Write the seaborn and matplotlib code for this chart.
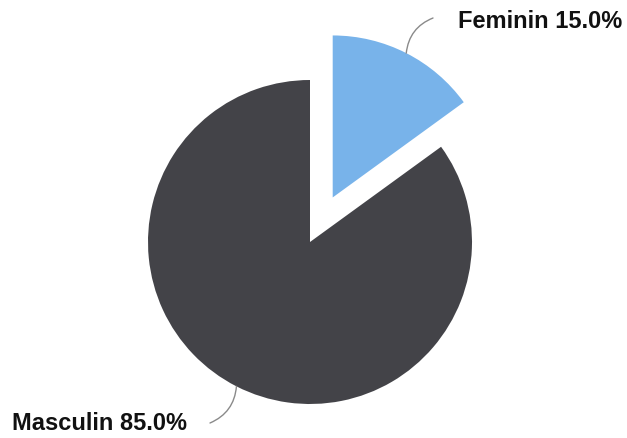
import numpy as np
import matplotlib
matplotlib.use("Agg")
import matplotlib.pyplot as plt
import seaborn as sns

# data
labels = ["Feminin", "Masculin"]
shares = [15.0, 85.0]
colors = ["#78b3ea", "#434348"]

sns.set_style("white")
plt.rcParams['font.family'] = ['Liberation Sans', 'DejaVu Sans']

fig = plt.figure(figsize=(6.27, 4.38), dpi=100)
ax = fig.add_axes([0, 0, 1, 1])

R = 162
wedges, _ = ax.pie(shares, colors=colors, startangle=90, counterclock=False,
                   explode=[50, 0], radius=R, center=(310, 196),
                   wedgeprops=dict(linewidth=0), frame=False)
ax.set_xlim(0, 627)
ax.set_ylim(0, 438)
ax.set_aspect("equal")
ax.axis("off")

# labels with curved connectors
text_pos = [(458, 416), (12, 14)]
line_end = [(433, 420), (210, 15)]
rads = [0.3, 0.3]
for w, lab, val, tp, le, rd in zip(wedges, labels, shares, text_pos, line_end, rads):
    mid = np.deg2rad((w.theta1 + w.theta2) / 2)
    cx, cy = w.center
    start = (cx + w.r * np.cos(mid), cy + w.r * np.sin(mid))
    ax.annotate("", xy=start, xytext=le,
                arrowprops=dict(arrowstyle="-", color="#8a8a8a", lw=1,
                                connectionstyle="arc3,rad=%s" % rd,
                                shrinkA=0, shrinkB=0))
    ax.text(tp[0], tp[1], "%s %.1f%%" % (lab, val), fontsize=17,
            fontweight="bold", color="#111111", va="center", ha="left")

plt.savefig("out.png", dpi=100)
